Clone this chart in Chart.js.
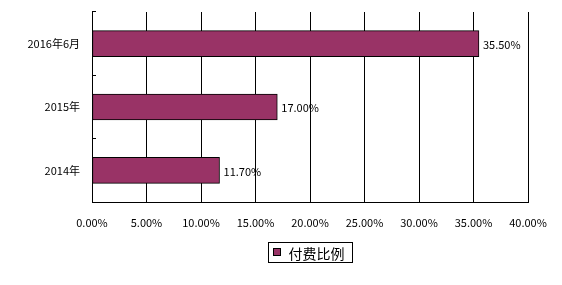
<!DOCTYPE html>
<html>
<head>
<meta charset="utf-8">
<script src="https://cdn.jsdelivr.net/npm/chart.js@4/dist/chart.umd.min.js"></script>
<style>
  html, body { margin: 0; padding: 0; background: #fff; }
  #wrap { width: 562px; height: 285px; }
</style>
</head>
<body>
<div id="wrap"><canvas id="c" width="562" height="285"></canvas></div>
<script>
// Paid-user share by period
const categories = ['2016年6月', '2015年', '2014年'];
const seriesName = '付费比例';
const paidShare = [35.5, 17.0, 11.7];
const axisMax = 40;
const axisStep = 5;

const FONT = '"Noto Sans CJK SC", "DejaVu Sans", sans-serif';
const BAR_COLOR = '#993366';

// Value labels at the end of each bar
const valueLabels = {
  id: 'valueLabels',
  afterDatasetsDraw(chart) {
    const ctx = chart.ctx;
    const meta = chart.getDatasetMeta(0);
    ctx.save();
    ctx.font = '11px ' + FONT;
    ctx.fillStyle = '#000';
    ctx.textAlign = 'left';
    ctx.textBaseline = 'middle';
    meta.data.forEach((bar, i) => {
      const v = chart.data.datasets[0].data[i];
      ctx.fillText(v.toFixed(2) + '%', bar.x + 4, bar.y + 1);
    });
    ctx.restore();
  }
};

// Framed legend centred under the plot area
const boxedLegend = {
  id: 'boxedLegend',
  afterDraw(chart) {
    const ctx = chart.ctx;
    const area = chart.chartArea;
    const ds = chart.data.datasets[0];
    ctx.save();
    ctx.font = '14px ' + FONT;
    const textW = ctx.measureText(ds.label).width;
    const boxW = 20 + textW + 8;
    const boxH = 20;
    const cx = (area.left + area.right) / 2;
    const x0 = Math.round(cx - boxW / 2) + 0.5;
    const y0 = Math.round(area.bottom) + 40.5;
    ctx.strokeStyle = '#000';
    ctx.lineWidth = 1;
    ctx.strokeRect(x0, y0, boxW, boxH);
    ctx.fillStyle = ds.backgroundColor;
    ctx.fillRect(x0 + 5, y0 + 6, 7, 7);
    ctx.strokeRect(x0 + 5, y0 + 6, 7, 7);
    ctx.fillStyle = '#000';
    ctx.textBaseline = 'middle';
    ctx.textAlign = 'left';
    ctx.fillText(ds.label, x0 + 20, y0 + boxH / 2 + 1);
    ctx.restore();
  }
};

new Chart(document.getElementById('c'), {
  type: 'bar',
  data: {
    labels: categories,
    datasets: [{
      label: seriesName,
      data: paidShare,
      backgroundColor: BAR_COLOR,
      borderColor: '#000',
      borderWidth: 1,
      borderSkipped: false,
      barThickness: 26
    }]
  },
  options: {
    indexAxis: 'y',
    responsive: false,
    animation: false,
    devicePixelRatio: 1,
    layout: { padding: { left: 0, top: 12, right: 34, bottom: 53 } },
    plugins: {
      legend: { display: false },
      tooltip: { enabled: false }
    },
    scales: {
      x: {
        min: 0,
        max: axisMax,
        afterFit(scale) { scale.height = 30; scale.paddingLeft = 0; scale.paddingRight = 0; },
        ticks: {
          stepSize: axisStep,
          color: '#000',
          font: { family: FONT, size: 11 },
          padding: 14,
          callback: v => Number(v).toFixed(2) + '%'
        },
        grid: { color: '#000', lineWidth: 1, drawTicks: false },
        border: { color: '#000', width: 1 }
      },
      y: {
        afterFit(scale) { scale.width = 92; scale.paddingTop = 0; scale.paddingBottom = 0; },
        ticks: {
          color: '#000',
          font: { family: FONT, size: 11 },
          padding: 16
        },
        grid: {
          offset: true,
          drawOnChartArea: false,
          drawTicks: true,
          tickLength: -4,
          color: '#000'
        },
        border: { color: '#000', width: 1 }
      }
    }
  },
  plugins: [valueLabels, boxedLegend]
});
</script>
</body>
</html>
